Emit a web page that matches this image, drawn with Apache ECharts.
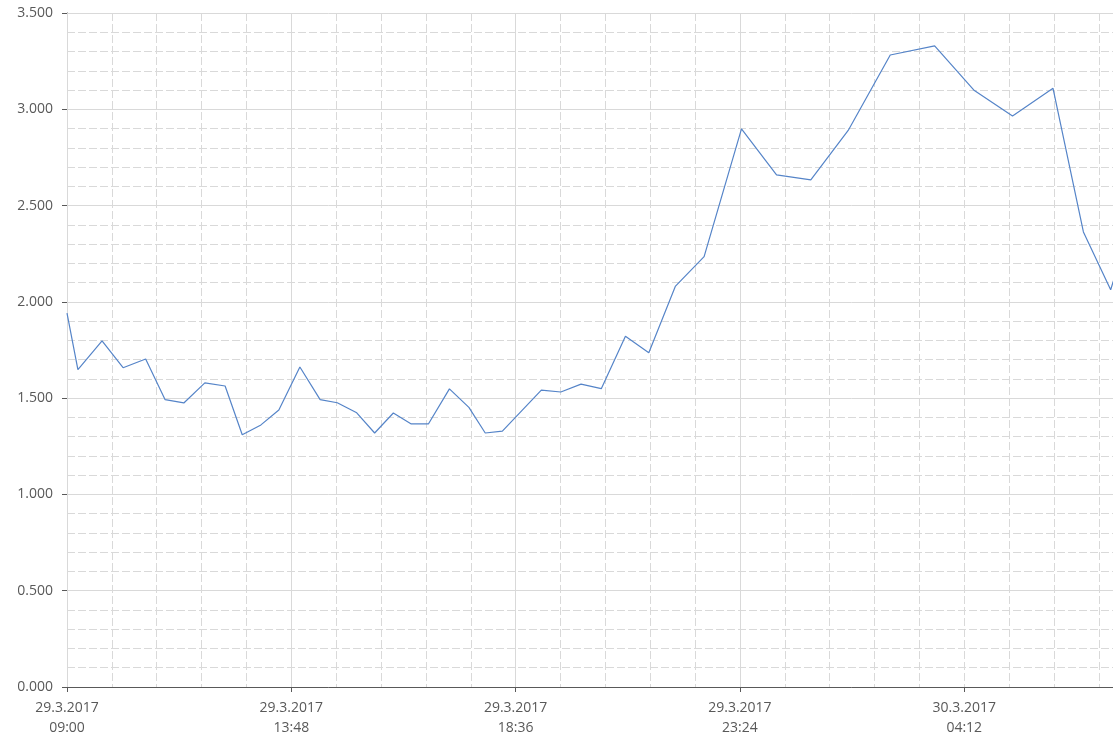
<!DOCTYPE html>
<html>
<head>
<meta charset="utf-8">
<script src="https://cdn.jsdelivr.net/npm/echarts@6/dist/echarts.min.js"></script>
<style>
html,body{margin:0;padding:0;background:#fff;}
#chart{width:1113px;height:748px;}
</style>
</head>
<body>
<div id="chart"></div>
<script>
// Timestamps of the measurements
const times = [
  '2017-03-29 09:00','2017-03-29 09:14','2017-03-29 09:45','2017-03-29 10:12','2017-03-29 10:41',
  '2017-03-29 11:06','2017-03-29 11:30','2017-03-29 11:57','2017-03-29 12:23','2017-03-29 12:45',
  '2017-03-29 13:09','2017-03-29 13:32','2017-03-29 13:59','2017-03-29 14:25','2017-03-29 14:47',
  '2017-03-29 15:12','2017-03-29 15:35','2017-03-29 15:59','2017-03-29 16:22','2017-03-29 16:44',
  '2017-03-29 17:11','2017-03-29 17:36','2017-03-29 17:57','2017-03-29 18:19','2017-03-29 19:09',
  '2017-03-29 19:34','2017-03-29 20:00','2017-03-29 20:26','2017-03-29 20:57','2017-03-29 21:27',
  '2017-03-29 22:01','2017-03-29 22:38','2017-03-29 23:26','2017-03-30 00:11','2017-03-30 00:55',
  '2017-03-30 01:43','2017-03-30 02:37','2017-03-30 03:34','2017-03-30 04:25','2017-03-30 05:14',
  '2017-03-30 06:06','2017-03-30 06:45','2017-03-30 07:20','2017-03-30 07:45'
];
// Values
const values = [
  1.942,1.648,1.797,1.658,1.703,
  1.492,1.475,1.579,1.563,1.310,
  1.361,1.438,1.662,1.492,1.476,
  1.424,1.319,1.423,1.366,1.366,
  1.548,1.452,1.319,1.329,1.542,
  1.532,1.573,1.549,1.821,1.736,
  2.080,2.235,2.898,2.659,2.633,
  2.890,3.282,3.329,3.097,2.965,
  3.109,2.363,2.063,2.390
];
// Axis settings
const axisStart = '2017-03-29 09:00';
const axisEnd = '2017-03-30 07:23';
const majorStepMinutes = 288;   // 4h48m
const minorSplits = 5;
const yMin = 0, yMax = 3.5, yStep = 0.5;

function toMs(s){
  const [d,t] = s.split(' ');
  const [Y,M,D] = d.split('-').map(Number);
  const [h,m] = t.split(':').map(Number);
  return Date.UTC(Y, M-1, D, h, m);
}
const START = toMs(axisStart);
function toMin(s){ return (toMs(s) - START) / 60000; }
const xMax = toMin(axisEnd);
const pad = n => (n < 10 ? '0' : '') + n;
function fmtX(v){
  const d = new Date(START + v * 60000);
  return d.getUTCDate() + '.' + (d.getUTCMonth()+1) + '.' + d.getUTCFullYear() + '\n' +
         pad(d.getUTCHours()) + ':' + pad(d.getUTCMinutes());
}
const majorVals = [];
for (let v = 0; v <= xMax; v += majorStepMinutes) majorVals.push(v);

const data = times.map((t, i) => [toMin(t), values[i]]);

const axisColor = '#595959';
const gridColor = '#d9d9d9';
const font = '"Open Sans", "Liberation Sans", sans-serif';

const chart = echarts.init(document.getElementById('chart'), null, {renderer: 'canvas'});
chart.setOption({
  animation: false,
  backgroundColor: '#ffffff',
  grid: {left: 67, right: 0, top: 13, bottom: 61, containLabel: false},
  xAxis: [
    {
      type: 'value',
      min: 0, max: xMax, interval: majorStepMinutes,
      position: 'bottom',
      axisLine: {show: true, onZero: false, lineStyle: {color: axisColor, width: 1}},
      axisTick: {show: true, length: 5, lineStyle: {color: axisColor}, customValues: majorVals},
      axisLabel: {
        show: true, color: axisColor, fontFamily: font, fontSize: 14, lineHeight: 20,
        margin: 11, formatter: fmtX, customValues: majorVals,
        showMinLabel: true, showMaxLabel: true, hideOverlap: false
      },
      splitLine: {show: true, showMaxLine: false, lineStyle: {color: gridColor, width: 1}},
      z: 3
    },
    {
      type: 'value',
      min: 0, max: xMax, interval: majorStepMinutes / minorSplits,
      position: 'top',
      axisLine: {show: false},
      axisTick: {show: false},
      axisLabel: {show: false},
      splitLine: {show: true, showMinLine: false, showMaxLine: false,
        lineStyle: {color: gridColor, width: 1, type: [8, 3]}},
      z: 1
    }
  ],
  yAxis: {
    type: 'value',
    min: yMin, max: yMax, interval: yStep,
    axisLine: {show: true, lineStyle: {color: axisColor, width: 1}},
    axisTick: {show: true, length: 5, lineStyle: {color: axisColor}},
    axisLabel: {
      color: axisColor, fontFamily: font, fontSize: 14, margin: 14,
      formatter: v => v.toFixed(3)
    },
    splitLine: {show: true, lineStyle: {color: gridColor, width: 1}},
    minorTick: {show: false, splitNumber: minorSplits},
    minorSplitLine: {show: true, lineStyle: {color: gridColor, width: 1, type: [8, 3]}}
  },
  series: [{
    type: 'line',
    xAxisIndex: 0,
    data: data,
    showSymbol: false,
    clip: true,
    lineStyle: {color: '#5584c8', width: 1.2},
    itemStyle: {color: '#5584c8'},
    z: 5
  }]
});
</script>
</body>
</html>
